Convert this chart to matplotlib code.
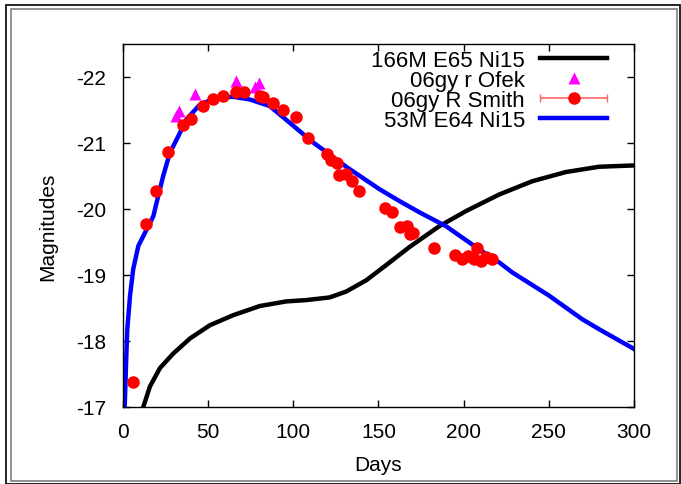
import matplotlib
matplotlib.use("Agg")
import matplotlib.pyplot as plt
from matplotlib.patches import Rectangle
from matplotlib.container import ErrorbarContainer
from matplotlib.legend_handler import HandlerErrorbar

plt.rcParams['font.family'] = ['Liberation Sans', 'DejaVu Sans']
plt.rcParams['axes.unicode_minus'] = False

# 166M E65 Ni15 model (black)
black_days = [11.9, 15.8, 21.7, 29.5, 39.4, 51.1, 64.6, 80.3, 95.9, 107.6, 121.3,
              131.1, 142.8, 154.5, 168.0, 185.7, 201.5, 220.9, 240.2, 260.0, 279.4, 300.0]
black_mag = [-17.00, -17.31, -17.59, -17.81, -18.04, -18.24, -18.39, -18.53, -18.60, -18.62, -18.66,
             -18.75, -18.92, -19.15, -19.42, -19.74, -19.97, -20.22, -20.42, -20.56, -20.64, -20.66]

# 06gy r Ofek (magenta triangles)
ofek_days = [31.4, 33.0, 42.2, 66.6, 77.3, 79.9]
ofek_mag = [-21.41, -21.48, -21.75, -21.94, -21.85, -21.91]

# 06gy R Smith (red circles)
smith_days = [5.7, 13.7, 19.3, 26.5, 35.3, 40.2, 47.0, 52.9, 58.8, 66.2,
              70.9, 80.3, 82.4, 88.0, 93.9, 101.3, 108.4, 119.5, 122.4, 125.4,
              126.8, 131.0, 134.7, 138.8, 153.8, 158.2, 162.6, 166.7, 168.3, 170.0,
              182.8, 194.8, 199.2, 202.7, 206.1, 208.0, 210.3, 213.2, 216.8]
smith_mag = [-17.38, -19.77, -20.28, -20.87, -21.27, -21.36, -21.56, -21.67, -21.71, -21.78,
             -21.78, -21.71, -21.70, -21.61, -21.50, -21.39, -21.08, -20.83, -20.75, -20.70,
             -20.52, -20.53, -20.43, -20.27, -20.02, -19.95, -19.73, -19.75, -19.62, -19.64,
             -19.41, -19.31, -19.24, -19.29, -19.24, -19.41, -19.21, -19.28, -19.24]

# 53M E64 Ni15 model (blue)
blue_days = [1.0, 1.8, 2.5, 4.1, 6.0, 9.0, 12.9, 17.8, 20.7, 23.6,
             27.5, 32.4, 37.3, 45.1, 54.9, 64.6, 74.4, 86.1, 96.8, 103.7,
             111.0, 119.5, 131.0, 150.6, 162.3, 174.0, 189.6, 209.0, 220.9, 228.5,
             250.0, 269.6, 279.4, 300.0]
blue_mag = [-17.00, -17.66, -18.17, -18.68, -19.09, -19.44, -19.64, -19.89, -20.20, -20.50,
            -20.85, -21.10, -21.36, -21.58, -21.69, -21.70, -21.66, -21.56, -21.33, -21.18,
            -21.02, -20.86, -20.64, -20.30, -20.12, -19.95, -19.74, -19.39, -19.19, -19.04,
            -18.69, -18.33, -18.18, -17.88]

fig = plt.figure(figsize=(6.81, 4.85), dpi=100)
ax = fig.add_axes([123 / 681, 1 - 408 / 485, (634 - 123) / 681, (408 - 45) / 485])

l1, = ax.plot(black_days, black_mag, color='black', lw=3.2, solid_joinstyle='round')
l2, = ax.plot(ofek_days, ofek_mag, '^', color='#ff00ff', ms=8, mec='none')
e3 = ax.errorbar(smith_days, smith_mag, xerr=0, fmt='o', color='red', ms=8,
                 ecolor='#ff6666', elinewidth=1.2, capsize=3)
l4, = ax.plot(blue_days, blue_mag, color='#0000ff', lw=3.2, solid_joinstyle='round')

ax.set_xlim(0, 300)
ax.set_ylim(-17, -22.5)
ax.set_xticks([0, 50, 100, 150, 200, 250, 300])
ax.set_yticks([-17, -18, -19, -20, -21, -22])
ax.tick_params(direction='in', top=True, right=True, length=5, width=1,
               labelsize=15)
ax.tick_params(axis='x', pad=11)
ax.tick_params(axis='y', pad=12)
for s in ax.spines.values():
    s.set_linewidth(1)

ax.set_xlabel('Days', fontsize=15, labelpad=10)
ax.set_ylabel('Magnitudes', fontsize=15, labelpad=14)

ax.legend([l1, l2, e3, l4],
          ['166M E65 Ni15', '06gy r Ofek', '06gy R Smith', '53M E64 Ni15'],
          handler_map={ErrorbarContainer: HandlerErrorbar(xerr_size=1.5)},
          loc='upper right', bbox_to_anchor=(1 - 27 / 511, 1 - 6 / 363),
          frameon=False, fontsize=16, markerfirst=False, handlelength=3.0,
          handletextpad=0.7, labelspacing=-0.05, borderpad=0, borderaxespad=0,
          numpoints=1)

# outer frame like the original export
fig.add_artist(Rectangle((6 / 681, 1 - 484.5 / 485), 673.5 / 681, 479 / 485,
                         transform=fig.transFigure, fill=False,
                         edgecolor='black', lw=1.2))
fig.add_artist(Rectangle((10.5 / 681, 1 - 482 / 485), 666.5 / 681, 472 / 485,
                         transform=fig.transFigure, fill=False,
                         edgecolor='#888888', lw=1.3))

fig.savefig('out.png', dpi=100)
